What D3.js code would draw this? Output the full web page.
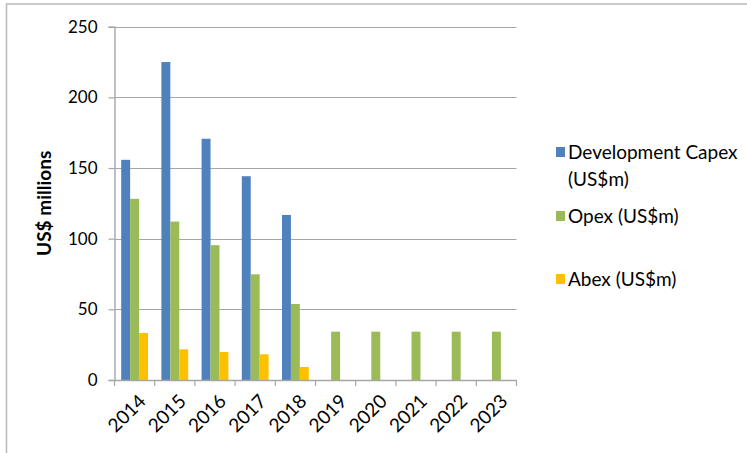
<!DOCTYPE html>
<html>
<head>
<meta charset="utf-8">
<script src="https://cdn.jsdelivr.net/npm/d3@7"></script>
<style>
  html, body { margin: 0; padding: 0; background: #fff; }
  svg { display: block; }
  text { font-family: Lato, "Open Sans", sans-serif; fill: #000; }
</style>
</head>
<body>
<svg id="chart" width="747" height="453"></svg>
<script>
const years = ["2014","2015","2016","2017","2018","2019","2020","2021","2022","2023"];
const capex = [155.8, 225, 170.7, 144.2, 116.8, null, null, null, null, null];
const opex  = [128.2, 112.1, 95.4, 74.8, 53.8, 34.2, 34.2, 34.2, 34.2, 34.2];
const abex  = [33.3, 21.7, 19.8, 18.2, 9.2, null, null, null, null, null];
const seriesNames = ["Development Capex (US$m)", "Opex (US$m)", "Abex (US$m)"];
const legendLines = [["Development Capex", "(US$m)"], ["Opex (US$m)"], ["Abex (US$m)"]];
const yTicks = [0, 50, 100, 150, 200, 250];
const yTitle = "US$ millions";

const colors = ["#4F81BD", "#9BBB59", "#FFC000"];
const seriesData = [capex, opex, abex];

const svg = d3.select("#chart");

// outer chart border
svg.append("rect")
  .attr("x", 6.5).attr("y", 4).attr("width", 760).attr("height", 460)
  .attr("fill", "none").attr("stroke", "#bdbdbd").attr("stroke-width", 1.6);

const plot = { left: 114.5, right: 516.5, top: 26.7, bottom: 380 };

const x0 = d3.scaleBand().domain(years).range([plot.left, plot.right]).paddingInner(0).paddingOuter(0);
const x1 = d3.scaleBand().domain(d3.range(seriesNames.length))
  .range([0, x0.bandwidth()]).paddingInner(0).paddingOuter(0.75);
const y = d3.scaleLinear().domain([0, 250]).range([plot.bottom, plot.top]);

// gridlines
svg.append("g").selectAll("line").data(yTicks.filter(d => d > 0)).join("line")
  .attr("x1", plot.left).attr("x2", plot.right)
  .attr("y1", d => Math.round(y(d)) + 0.5).attr("y2", d => Math.round(y(d)) + 0.5)
  .attr("stroke", "#a6a6a6").attr("stroke-width", 1.2);

// bars
const groups = svg.append("g").selectAll("g").data(seriesData).join("g")
  .attr("fill", (d, i) => colors[i]);
groups.each(function(vals, si) {
  d3.select(this).selectAll("rect")
    .data(vals.map((v, i) => ({ v, year: years[i] })).filter(d => d.v != null))
    .join("rect")
    .attr("x", d => x0(d.year) + x1(si))
    .attr("width", x1.bandwidth())
    .attr("y", d => y(d.v))
    .attr("height", d => y(0) - y(d.v));
});

// y axis
const yAxis = d3.axisLeft(y).tickValues(yTicks).tickSize(6).tickPadding(11).tickFormat(d3.format("d"));
const ya = svg.append("g").attr("transform", `translate(${plot.left},0)`).call(yAxis);
ya.select(".domain").attr("stroke", "#a6a6a6").attr("stroke-width", 1.4);
ya.selectAll(".tick line").attr("stroke", "#a6a6a6").attr("stroke-width", 1.2);
ya.selectAll(".tick text").attr("font-size", 17).attr("font-family", "Lato, sans-serif").attr("fill", "#000");

// x axis
const xTickPos = years.map(yv => x0(yv)).concat([plot.right]);
const xg = svg.append("g");
xg.append("line").attr("x1", plot.left).attr("x2", plot.right)
  .attr("y1", plot.bottom + 0.5).attr("y2", plot.bottom + 0.5)
  .attr("stroke", "#a6a6a6").attr("stroke-width", 1.4);
xg.selectAll("line.t").data(xTickPos).join("line").attr("class", "t")
  .attr("x1", d => d).attr("x2", d => d)
  .attr("y1", plot.bottom).attr("y2", plot.bottom + 6)
  .attr("stroke", "#a6a6a6").attr("stroke-width", 1.2);
xg.selectAll("text").data(years).join("text")
  .attr("text-anchor", "end")
  .attr("font-size", 19)
  .attr("transform", d => `translate(${x0(d) + x0.bandwidth() / 2 + 3},${plot.bottom + 13}) rotate(-45)`)
  .attr("dy", "0.7em")
  .text(d => d);

// y title
svg.append("text")
  .attr("transform", `translate(51,${(plot.top + plot.bottom) / 2}) rotate(-90)`)
  .attr("text-anchor", "middle")
  .attr("font-size", 19).attr("font-weight", "bold")
  .text(yTitle);

// legend
const legendY = [152, 216, 279];
const lg = svg.append("g");
legendLines.forEach((lines, i) => {
  lg.append("rect").attr("x", 556).attr("y", legendY[i] - 5).attr("width", 9).attr("height", 10)
    .attr("fill", colors[i]);
  lines.forEach((ln, j) => {
    lg.append("text").attr("x", 568).attr("y", legendY[i] + 7 + j * 27)
      .attr("font-size", 19).text(ln);
  });
});
</script>
</body>
</html>
